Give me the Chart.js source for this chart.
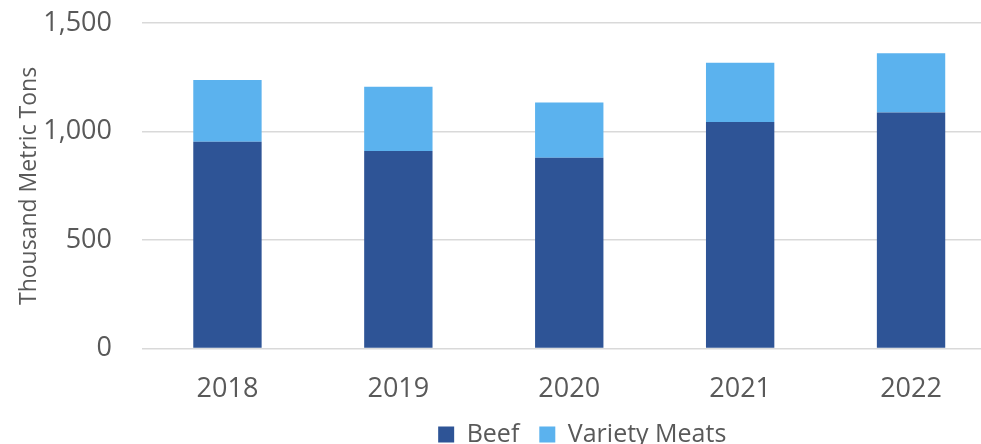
<!DOCTYPE html>
<html>
<head>
<meta charset="utf-8">
<script src="https://cdn.jsdelivr.net/npm/chart.js@4/dist/chart.umd.min.js"></script>
<style>
  html, body { margin: 0; padding: 0; background: #fff; overflow: hidden; width: 981px; height: 444px; }
  #wrap { position: absolute; left: 0; top: -23px; width: 997px; height: 509px; }
</style>
</head>
<body>
<div id="wrap"><canvas id="c"></canvas></div>
<script>
const categories = ['2018', '2019', '2020', '2021', '2022'];
const beef = [954, 911, 880, 1045, 1088];
const varietyMeats = [284, 296, 254, 273, 273];
const yTicks = [0, 500, 1000, 1500];
const seriesNames = ['Beef', 'Variety Meats'];
const yTitle = 'Thousand Metric Tons';

const FONT = "'Open Sans', 'Liberation Sans', sans-serif";
const TXT = '#595959';

const legendShift = {
  id: 'legendShift',
  afterLayout(chart) {
    const lg = chart.legend;
    if (lg) { lg.left += 84; lg.right += 84; lg.top -= 29; lg.bottom -= 29; }
  }
};

new Chart(document.getElementById('c'), {
  type: 'bar',
  data: {
    labels: categories,
    datasets: [
      { label: seriesNames[0], data: beef, backgroundColor: '#2E5496', borderWidth: 0,
        categoryPercentage: 0.8, barPercentage: 0.5 },
      { label: seriesNames[1], data: varietyMeats, backgroundColor: '#5BB2EE', borderWidth: 0,
        categoryPercentage: 0.8, barPercentage: 0.5 }
    ]
  },
  plugins: [legendShift],
  options: {
    responsive: true,
    maintainAspectRatio: false,
    animation: false,
    layout: { padding: { left: 0, right: 0.5, top: 14, bottom: 0 } },
    plugins: {
      tooltip: { enabled: false },
      legend: {
        position: 'bottom',
        labels: {
          color: TXT,
          font: { family: FONT, size: 25 },
          boxWidth: 16, boxHeight: 16, padding: 20
        }
      }
    },
    scales: {
      x: {
        stacked: true,
        grid: { display: false, drawTicks: false },
        border: { display: false },
        ticks: { color: TXT, font: { family: FONT, size: 27 }, padding: 25, maxRotation: 0 }
      },
      y: {
        stacked: true,
        min: 0, max: 1500,
        afterBuildTicks: (axis) => { axis.ticks = yTicks.map(v => ({ value: v })); },
        afterFit: (axis) => { axis.width = 142; },
        grid: { color: '#d9d9d9', lineWidth: 1.5, drawTicks: false },
        border: { display: false },
        ticks: {
          color: TXT, font: { family: FONT, size: 27 }, padding: 30,
          callback: (v) => v.toLocaleString('en-US')
        },
        title: {
          display: true, text: yTitle, color: TXT,
          font: { family: FONT, size: 23 }, padding: { top: 16, bottom: 2 }
        }
      }
    }
  }
});
</script>
</body>
</html>
